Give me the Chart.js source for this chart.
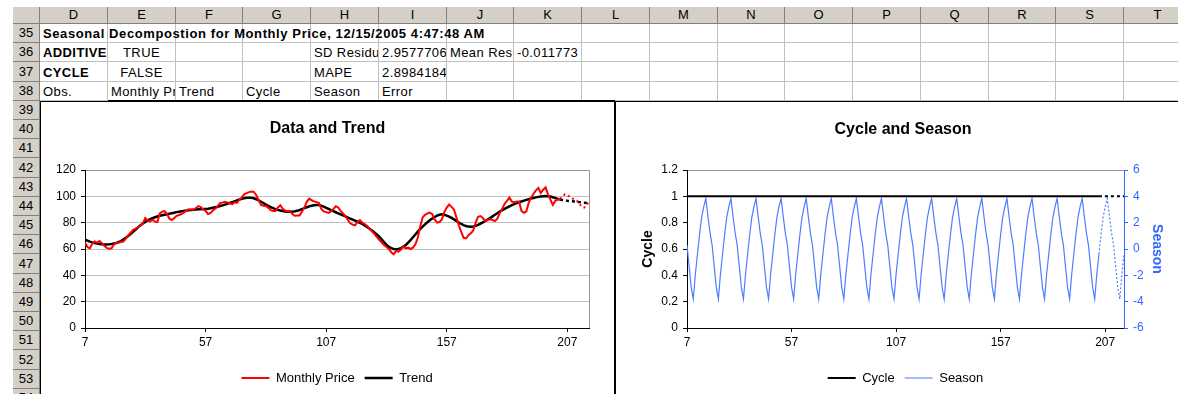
<!DOCTYPE html>
<html>
<head>
<meta charset="utf-8">
<script src="https://cdn.jsdelivr.net/npm/chart.js@4.4.0/dist/chart.umd.min.js"></script>
<style>
  html, body { margin: 0; padding: 0; width: 1178px; height: 394px; overflow: hidden; background: #fff; }
  body { position: relative; font-family: "Liberation Sans", Arial, sans-serif; }
  .hdr { position: absolute; box-sizing: border-box; background: #d4d0c8; border-right: 1px solid #808080;
         border-bottom: 1px solid #808080; font-size: 13px; color: #000; text-align: center; }
  .gl  { position: absolute; background: #c0c0c0; }
  .cell { position: absolute; font-size: 13px; letter-spacing: 0.4px; white-space: nowrap; overflow: hidden;
          box-sizing: border-box; padding: 0 3px; color: #000; }
  .chartbox { position: absolute; box-sizing: border-box; background: #fff; }
  canvas { position: absolute; }
</style>
</head>
<body>
<div id="sheet"></div>
<div class="chartbox" style="left:40px; top:101px; width:576px; height:300px; border-left:1px solid #000; border-top:1px solid #000;"></div>
<div style="position:absolute; left:108px; top:100px; width:507px; height:1px; background:#000;"></div>
<div class="chartbox" style="left:614px; top:101px; width:580px; height:300px; border-left:2px solid #000; border-top:1px solid #000;"></div>
<canvas id="trendChart" width="573" height="298" style="left:41px; top:102px;"></canvas>
<canvas id="seasonChart" width="574" height="298" style="left:616px; top:102px;"></canvas>
<script>
// ---- decomposition output, observations 7 .. 216 (205 onward is the 12-month forecast) ----
const firstObs = 7;
const lastActualObs = 204;

const monthlyPrice = [
  65, 61.5, 60.5, 64, 65.8, 64.8, 66, 64.3, 62.5, 60.8,
  60.2, 60.5, 63.5, 64.6, 64.9, 65.3, 65.8, 68, 70.5, 72.5,
  74.5, 75.5, 76.5, 77.8, 79.5, 83.5, 81.5, 81, 82.3, 80.8,
  80.5, 87, 88.3, 88.8, 86.8, 83, 82, 83.5, 85.2, 85.8,
  86.6, 87.5, 89.2, 90.1, 90, 89.8, 91, 92.6, 91.8, 90,
  89, 86.6, 87.2, 89.2, 90.6, 92.5, 94.8, 95.2, 95.8, 95.3,
  95, 94, 95.5, 95, 97.5, 99, 101.5, 102.5, 103.2, 103.6,
  103.4, 101, 97, 93.5, 92.8, 92.6, 91.5, 89.5, 88.8, 88.8,
  91.5, 93.2, 90.5, 89.2, 88.6, 88.8, 86.5, 85.2, 85.4, 85.5,
  88.5, 91.5, 96, 98.3, 97, 96.2, 95.6, 95, 90.5, 88.6,
  88, 87.4, 88.5, 90.5, 92.5, 91.5, 89, 87, 85, 82,
  79.5, 78.5, 78, 80.5, 82, 80, 79, 77.5, 75.5, 73.5,
  71.5, 69.2, 67, 65, 63, 61.5, 60, 57.5, 56, 58.5,
  58, 59.5, 62, 60.5, 61, 60, 61, 63.5, 68.5, 77,
  84, 86, 87, 87.6, 86.5, 82.5, 80, 80.5, 82.5, 88,
  91.5, 93.8, 92, 90, 84, 78, 73, 68.5, 68, 70.5,
  72, 74, 80, 84.5, 85, 83.5, 81.2, 82, 82.5, 82,
  81.2, 83, 87.4, 90.5, 94.3, 96.5, 99, 96, 95.5, 96,
  96, 89, 87.5, 88.5, 95, 99, 102, 104.5, 106.4, 102.5,
  105, 106.8, 101.5, 97.5, 93.5, 96.5, 97.5, 98, 100, 101.5,
  101, 99.5, 98.5, 97.5, 96.5, 94.5, 92, 91.5, 93.5, 96
];

const trend = [
  67.0, 66.3, 65.6, 65.0, 64.5, 64.1, 63.8, 63.6, 63.5, 63.5,
  63.6, 63.8, 64.1, 64.6, 65.3, 66.2, 67.3, 68.5, 70.0, 71.6,
  73.2, 74.8, 76.4, 78.0, 79.4, 80.6, 81.7, 82.6, 83.4, 84.1,
  84.7, 85.2, 85.6, 86.0, 86.4, 86.8, 87.2, 87.6, 88.0, 88.3,
  88.6, 88.9, 89.2, 89.4, 89.6, 89.8, 90.0, 90.1, 90.2, 90.3,
  90.4, 90.6, 90.9, 91.3, 91.7, 92.1, 92.6, 93.1, 93.7, 94.3,
  94.9, 95.5, 96.2, 96.9, 97.6, 98.2, 98.6, 98.9, 99.0, 98.9,
  98.5, 97.8, 96.9, 95.9, 94.8, 93.7, 92.7, 91.8, 91.0, 90.3,
  89.7, 89.2, 88.8, 88.5, 88.3, 88.2, 88.3, 88.6, 89.0, 89.6,
  90.3, 91.0, 91.7, 92.4, 92.9, 93.3, 93.5, 93.4, 92.9, 92.2,
  91.3, 90.4, 89.5, 88.7, 87.9, 87.1, 86.3, 85.5, 84.7, 83.9,
  83.1, 82.3, 81.5, 80.7, 79.9, 79.0, 77.9, 76.7, 75.4, 74.0,
  72.5, 71.0, 69.3, 67.3, 65.2, 63.2, 61.6, 60.6, 60.0, 59.8,
  60.0, 60.6, 61.6, 63.0, 64.8, 66.8, 68.9, 71.0, 73.2, 75.2,
  77.0, 78.7, 80.3, 81.8, 83.1, 84.3, 85.3, 86.0, 86.3, 86.0,
  85.4, 84.6, 83.6, 82.5, 81.3, 80.1, 79.0, 78.1, 77.4, 77.0,
  76.9, 77.1, 77.6, 78.3, 79.2, 80.2, 81.3, 82.4, 83.6, 84.8,
  86.0, 87.2, 88.4, 89.5, 90.5, 91.5, 92.4, 93.3, 94.1, 94.8,
  95.5, 96.1, 96.7, 97.3, 97.8, 98.3, 98.8, 99.2, 99.6, 99.9,
  100.1, 100.2, 100.1, 99.8, 99.3, 98.7, 98.1, 97.5, 97.2, 96.9,
  96.6, 96.4, 96.2, 96.0, 95.8, 95.6, 95.4, 95.2, 95.0, 94.8
];

const cycle = [
  1, 1, 1, 1, 1, 1, 1, 1, 1, 1, 1, 1, 1, 1, 1, 1, 1, 1, 1, 1, 1, 1, 1, 1, 1, 1, 1, 1, 1, 1,
  1, 1, 1, 1, 1, 1, 1, 1, 1, 1, 1, 1, 1, 1, 1, 1, 1, 1, 1, 1, 1, 1, 1, 1, 1, 1, 1, 1, 1, 1,
  1, 1, 1, 1, 1, 1, 1, 1, 1, 1, 1, 1, 1, 1, 1, 1, 1, 1, 1, 1, 1, 1, 1, 1, 1, 1, 1, 1, 1, 1,
  1, 1, 1, 1, 1, 1, 1, 1, 1, 1, 1, 1, 1, 1, 1, 1, 1, 1, 1, 1, 1, 1, 1, 1, 1, 1, 1, 1, 1, 1,
  1, 1, 1, 1, 1, 1, 1, 1, 1, 1, 1, 1, 1, 1, 1, 1, 1, 1, 1, 1, 1, 1, 1, 1, 1, 1, 1, 1, 1, 1,
  1, 1, 1, 1, 1, 1, 1, 1, 1, 1, 1, 1, 1, 1, 1, 1, 1, 1, 1, 1, 1, 1, 1, 1, 1, 1, 1, 1, 1, 1,
  1, 1, 1, 1, 1, 1, 1, 1, 1, 1, 1, 1, 1, 1, 1, 1, 1, 1, 1, 1, 1, 1, 1, 1, 1, 1, 1, 1, 1, 1
];

const season = [
  0.3, -1.3, -2.9,
  -3.8, -1.9, -0.4, 1.1, 2.4, 3.2, 3.85, 2.5, 1.25, 0.3, -1.3, -2.9,
  -3.8, -1.9, -0.4, 1.1, 2.4, 3.2, 3.85, 2.5, 1.25, 0.3, -1.3, -2.9,
  -3.8, -1.9, -0.4, 1.1, 2.4, 3.2, 3.85, 2.5, 1.25, 0.3, -1.3, -2.9,
  -3.8, -1.9, -0.4, 1.1, 2.4, 3.2, 3.85, 2.5, 1.25, 0.3, -1.3, -2.9,
  -3.8, -1.9, -0.4, 1.1, 2.4, 3.2, 3.85, 2.5, 1.25, 0.3, -1.3, -2.9,
  -3.8, -1.9, -0.4, 1.1, 2.4, 3.2, 3.85, 2.5, 1.25, 0.3, -1.3, -2.9,
  -3.8, -1.9, -0.4, 1.1, 2.4, 3.2, 3.85, 2.5, 1.25, 0.3, -1.3, -2.9,
  -3.8, -1.9, -0.4, 1.1, 2.4, 3.2, 3.85, 2.5, 1.25, 0.3, -1.3, -2.9,
  -3.8, -1.9, -0.4, 1.1, 2.4, 3.2, 3.85, 2.5, 1.25, 0.3, -1.3, -2.9,
  -3.8, -1.9, -0.4, 1.1, 2.4, 3.2, 3.85, 2.5, 1.25, 0.3, -1.3, -2.9,
  -3.8, -1.9, -0.4, 1.1, 2.4, 3.2, 3.85, 2.5, 1.25, 0.3, -1.3, -2.9,
  -3.8, -1.9, -0.4, 1.1, 2.4, 3.2, 3.85, 2.5, 1.25, 0.3, -1.3, -2.9,
  -3.8, -1.9, -0.4, 1.1, 2.4, 3.2, 3.85, 2.5, 1.25, 0.3, -1.3, -2.9,
  -3.8, -1.9, -0.4, 1.1, 2.4, 3.2, 3.85, 2.5, 1.25, 0.3, -1.3, -2.9,
  -3.8, -1.9, -0.4, 1.1, 2.4, 3.2, 3.85, 2.5, 1.25, 0.3, -1.3, -2.9,
  -3.8, -1.9, -0.4, 1.1, 2.4, 3.2, 3.85, 2.5, 1.25, 0.3, -1.3, -2.9,
  -3.8, -1.9, -0.4, 1.1, 2.4, 3.2, 3.85, 2.5, 1.25, 0.3, -1.3, -2.9,
  -3.8, -1.9, -0.4
];

const obs = monthlyPrice.map((_, i) => firstObs + i);

// axis tick labels
const obsTicks = [7, 57, 107, 157, 207];
const priceTicks = [0, 20, 40, 60, 80, 100, 120];
const cycleTicks = [0, 0.2, 0.4, 0.6, 0.8, 1, 1.2];
const seasonTicks = [-6, -4, -2, 0, 2, 4, 6];

// ---- worksheet: headers, grid and the summary cells above the charts ----
const colLetters = ['D','E','F','G','H','I','J','K','L','M','N','O','P','Q','R','S','T'];
const rowNumbers = [35,36,37,38,39,40,41,42,43,44,45,46,47,48,49,50,51,52,53,54];
const cells = [
  { row: 35, col: 'D', text: 'Seasonal Decompostion for Monthly Price, 12/15/2005 4:47:48 AM', bold: true, span: 8, spacing: 0.6 },
  { row: 36, col: 'D', text: 'ADDITIVE', bold: true },
  { row: 36, col: 'E', text: 'TRUE', align: 'center' },
  { row: 36, col: 'H', text: 'SD Residual' },
  { row: 36, col: 'I', text: '2.9577706', align: 'right' },
  { row: 36, col: 'J', text: 'Mean Residual' },
  { row: 36, col: 'K', text: '-0.011773', align: 'right' },
  { row: 37, col: 'D', text: 'CYCLE', bold: true },
  { row: 37, col: 'E', text: 'FALSE', align: 'center' },
  { row: 37, col: 'H', text: 'MAPE' },
  { row: 37, col: 'I', text: '2.8984184', align: 'right' },
  { row: 38, col: 'D', text: 'Obs.' },
  { row: 38, col: 'E', text: 'Monthly Price' },
  { row: 38, col: 'F', text: 'Trend' },
  { row: 38, col: 'G', text: 'Cycle' },
  { row: 38, col: 'H', text: 'Season' },
  { row: 38, col: 'I', text: 'Error' }
];

(function buildSheet() {
  const sheet = document.getElementById('sheet');
  const hdrTop = 7, hdrH = 17, rowH = 19.2, colW = 67.75, rowHdrL = 13, rowHdrW = 27, gridL = 40;
  const rowTop = r => Math.round(hdrTop + hdrH + (r - rowNumbers[0]) * rowH);
  const colLeft = i => Math.round(gridL + i * colW);
  const add = (cls, css, text) => {
    const d = document.createElement('div');
    d.className = cls;
    d.style.cssText = css;
    if (text !== undefined) d.textContent = text;
    sheet.appendChild(d);
    return d;
  };
  // corner + column headers
  add('hdr', `left:${rowHdrL}px;top:${hdrTop}px;width:${rowHdrW}px;height:${hdrH}px;`);
  colLetters.forEach((c, i) => {
    add('hdr', `left:${colLeft(i)}px;top:${hdrTop}px;width:${colLeft(i + 1) - colLeft(i)}px;height:${hdrH}px;line-height:${hdrH - 1}px;`, c);
  });
  // row headers
  rowNumbers.forEach(r => {
    const t = rowTop(r), h = rowTop(r + 1) - t;
    add('hdr', `left:${rowHdrL}px;top:${t}px;width:${rowHdrW}px;height:${h}px;line-height:${h - 1}px;`, String(r));
  });
  // light cell grid for rows 35-38
  const gTop = rowTop(35), gBot = rowTop(39);
  for (let r = 35; r <= 38; r++) {
    add('gl', `left:${gridL}px;top:${rowTop(r + 1) - 1}px;width:${1178 - gridL}px;height:1px;`);
  }
  for (let i = 1; i <= colLetters.length; i++) {
    add('gl', `left:${colLeft(i) - 1}px;top:${gTop}px;width:1px;height:${gBot - gTop}px;`);
  }
  // cell texts
  cells.forEach(c => {
    const i = colLetters.indexOf(c.col);
    const t = rowTop(c.row), h = rowTop(c.row + 1) - t;
    const w = colLeft(i + (c.span || 1)) - colLeft(i) - 1;
    add('cell', `left:${colLeft(i)}px;top:${t}px;width:${w}px;height:${h}px;line-height:${h + 1}px;` +
      `text-align:${c.align || 'left'};font-weight:${c.bold ? 'bold' : 'normal'};` +
      (c.spacing ? `letter-spacing:${c.spacing}px;` : ''), c.text);
  });
})();

// ---- charts ----
Chart.defaults.font.family = '"Liberation Sans", Arial, sans-serif';
Chart.defaults.font.size = 12;
Chart.defaults.color = '#000';

const setTicks = values => scale => { scale.ticks = values.map(v => ({ value: v })); };
const forecastDash = pattern => ctx => (obs[ctx.p1DataIndex] > lastActualObs ? pattern : undefined);

const plotFrame = {
  id: 'plotFrame',
  beforeDatasetsDraw(chart, args, opts) {
    if (!opts.color) return;
    const { ctx, chartArea: a } = chart;
    ctx.save();
    ctx.strokeStyle = opts.color;
    ctx.lineWidth = 1;
    ctx.beginPath();
    const x = Math.round(a.right) + 0.5;
    ctx.moveTo(x, a.top);
    ctx.lineTo(x, a.bottom);
    ctx.stroke();
    ctx.restore();
  }
};

const xAxis = {
  type: 'linear',
  min: obs[0],
  max: obs[obs.length - 1],
  afterBuildTicks: setTicks(obsTicks),
  afterFit: s => { s.height = 33.5; },
  grid: { drawOnChartArea: false, drawTicks: true, tickLength: 4, tickColor: '#000' },
  border: { color: '#000', width: 1 },
  ticks: { padding: 3, maxRotation: 0, autoSkip: false }
};

const legendOpts = {
  position: 'bottom',
  fullSize: false,
  labels: { usePointStyle: true, pointStyle: 'line', pointStyleWidth: 28, boxHeight: 13, padding: 10,
            font: { size: 13 }, color: '#000' }
};

new Chart(document.getElementById('trendChart'), {
  type: 'line',
  data: {
    labels: obs,
    datasets: [
      { label: 'Monthly Price', data: monthlyPrice, borderColor: '#ff0000', backgroundColor: '#ff0000',
        borderWidth: 2, pointRadius: 0, segment: { borderDash: forecastDash([2, 3]) } },
      { label: 'Trend', data: trend, borderColor: '#000', backgroundColor: '#000',
        borderWidth: 2.5, pointRadius: 0, segment: { borderDash: forecastDash([3, 3]) } }
    ]
  },
  options: {
    responsive: false, animation: false, devicePixelRatio: 1, events: [],
    layout: { padding: { top: 0, left: 0, right: 0, bottom: 5.5 } },
    plugins: {
      title: { display: true, text: 'Data and Trend', font: { size: 16, weight: 'bold' }, color: '#000',
               padding: { top: 17.4, bottom: 31.4 } },
      legend: legendOpts,
      tooltip: { enabled: false },
      plotFrame: { color: '#999' }
    },
    scales: {
      x: xAxis,
      y: {
        min: priceTicks[0], max: priceTicks[priceTicks.length - 1],
        afterBuildTicks: setTicks(priceTicks),
        afterFit: s => { s.width = 44; },
        grid: { color: c => (c.tick.value === 0 ? 'rgba(0,0,0,0)' : c.tick.value === 120 ? '#999' : '#c0c0c0'),
                drawTicks: true, tickLength: 4, tickColor: '#000' },
        border: { color: '#000', width: 1 },
        ticks: { padding: 5 }
      },
      yPad: {
        position: 'right', display: true,
        afterFit: s => { s.width = 25; },
        grid: { display: false }, border: { display: false }, ticks: { display: false }
      }
    }
  },
  plugins: [plotFrame]
});

const seasonBlue = '#3366ff';

new Chart(document.getElementById('seasonChart'), {
  type: 'line',
  data: {
    labels: obs,
    datasets: [
      { label: 'Cycle', data: cycle, yAxisID: 'y', borderColor: '#000', backgroundColor: '#000',
        borderWidth: 2, pointRadius: 0, segment: { borderDash: forecastDash([3, 3]) } },
      { label: 'Season', data: season, yAxisID: 'y2', borderColor: '#4f7dff', backgroundColor: '#4f7dff',
        borderWidth: 1.2, pointRadius: 0, segment: { borderDash: forecastDash([2, 2]) } }
    ]
  },
  options: {
    responsive: false, animation: false, devicePixelRatio: 1, events: [],
    layout: { padding: { top: 0, left: 0, right: 0, bottom: 5.5 } },
    plugins: {
      title: { display: true, text: 'Cycle and Season', font: { size: 16, weight: 'bold' }, color: '#000',
               padding: { top: 18.4, bottom: 30.4 } },
      legend: legendOpts,
      tooltip: { enabled: false }
    },
    scales: {
      x: xAxis,
      y: {
        position: 'left',
        min: cycleTicks[0], max: cycleTicks[cycleTicks.length - 1],
        afterBuildTicks: setTicks(cycleTicks),
        afterFit: s => { s.width = 71; },
        grid: { color: c => (c.tick.value === 1.2 ? '#999' : 'rgba(0,0,0,0)'),
                drawTicks: true, tickLength: 4, tickColor: '#000' },
        border: { color: '#000', width: 1 },
        ticks: { padding: 5, callback: v => String(v) },
        title: { display: true, text: 'Cycle', font: { size: 14, weight: 'bold' }, color: '#000',
                 padding: { top: 23.6, bottom: 0 } }
      },
      y2: {
        position: 'right',
        min: seasonTicks[0], max: seasonTicks[seasonTicks.length - 1],
        afterBuildTicks: setTicks(seasonTicks),
        afterFit: s => { s.width = 66; },
        grid: { drawOnChartArea: false, drawTicks: true, tickLength: 4, tickColor: seasonBlue },
        border: { color: seasonBlue, width: 1 },
        ticks: { padding: 5, color: seasonBlue, callback: v => String(v) },
        title: { display: true, text: 'Season', font: { size: 14, weight: 'bold' }, color: seasonBlue,
                 padding: { top: 24.6, bottom: 0 } }
      }
    }
  }
});
</script>
</body>
</html>
